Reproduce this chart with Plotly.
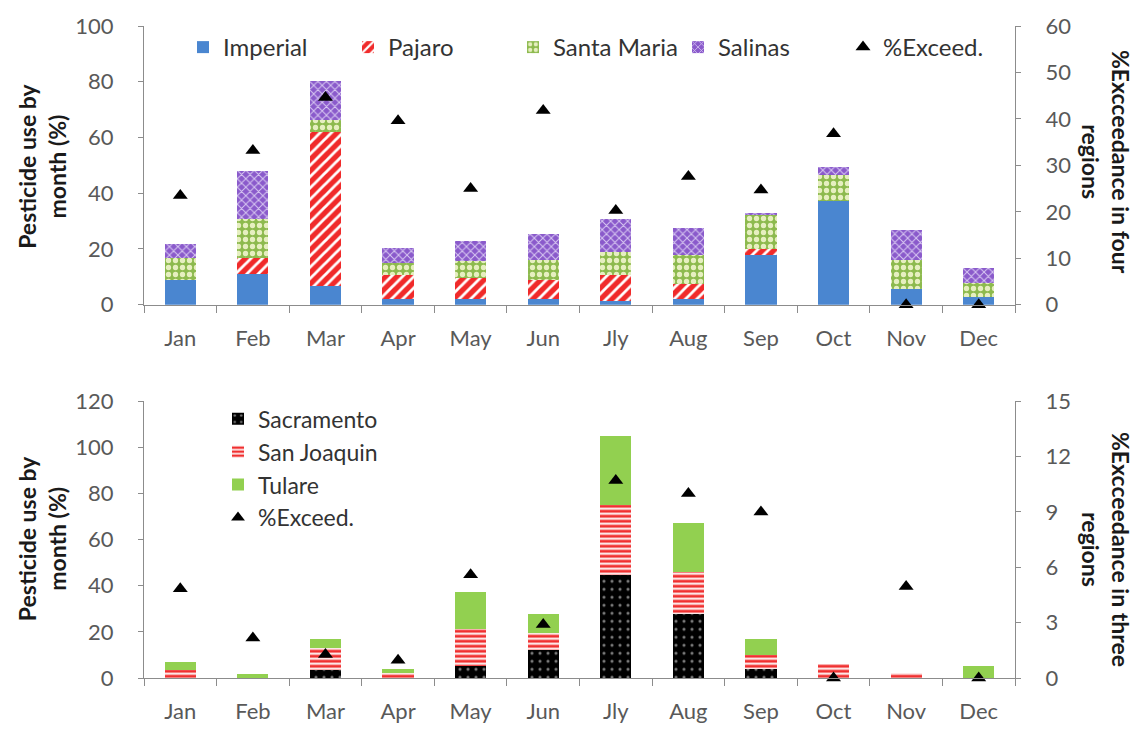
import plotly.graph_objects as go

months = ["Jan", "Feb", "Mar", "Apr", "May", "Jun", "Jly", "Aug", "Sep", "Oct", "Nov", "Dec"]

# Top panel: four regions (pesticide use by month, %)
imperial = [8.7, 10.9, 6.7, 2.0, 2.0, 2.0, 1.4, 2.2, 17.7, 37.2, 5.5, 2.8]
pajaro = [0.0, 5.9, 55.2, 8.5, 7.7, 6.7, 9.2, 5.1, 2.3, 0.0, 0.0, 0.0]
santa_maria = [8.1, 13.9, 4.5, 4.5, 5.9, 7.5, 8.3, 10.6, 12.1, 9.3, 10.7, 5.1]
salinas = [4.9, 17.3, 13.9, 5.3, 7.3, 9.2, 11.7, 9.5, 0.9, 3.0, 10.6, 5.3]
exceed_four = [23.5, 33.2, 44.6, 39.6, 25.0, 41.8, 20.3, 27.6, 24.7, 36.8, 0.0, 0.0]

# Bottom panel: three regions
sacramento = [0.0, 0.0, 3.6, 0.0, 5.0, 12.1, 44.8, 27.6, 4.0, 0.0, 0.0, 0.0]
san_joaquin = [3.6, 0.0, 9.3, 2.1, 16.4, 7.5, 30.2, 18.2, 6.0, 6.1, 2.0, 0.0]
tulare = [3.5, 1.9, 3.8, 1.6, 15.9, 8.3, 30.1, 21.3, 6.9, 0.0, 0.0, 5.4]
exceed_three = [4.84, 2.17, 1.28, 0.96, 5.6, 2.9, 10.7, 10.0, 9.0, 0.0, 4.96, 0.0]

FONT = "Lato"
TICK_COLOR = "#595959"
AXIS_COLOR = "#8c8c8c"
BAR_W = 0.43

fig = go.Figure()

def bar(name, vals, xa, ya, legend, color, pattern=None):
    marker = dict(color=color, line=dict(width=0))
    if pattern:
        marker["pattern"] = pattern
    fig.add_trace(go.Bar(name=name, x=months, y=vals, xaxis=xa, yaxis=ya,
                         width=BAR_W, marker=marker, legend=legend))

# top bars
bar("Imperial", imperial, "x", "y", "legend", "#4A86D0")
bar("Pajaro", pajaro, "x", "y", "legend", "#F02A2A",
    dict(shape="/", fgcolor="#FFFFFF", bgcolor="#F02A2A", size=8, solidity=0.35, fillmode="replace"))
bar("Santa Maria", santa_maria, "x", "y", "legend", "#8DBA4E",
    dict(shape=".", fgcolor="#E6EFC0", bgcolor="#8DBA4E", size=7, solidity=0.45, fillmode="replace"))
bar("Salinas", salinas, "x", "y", "legend", "#8A5ACB",
    dict(shape="x", fgcolor="#D8C8F2", bgcolor="#8A5ACB", size=6, solidity=0.3, fillmode="replace"))
fig.add_trace(go.Scatter(name="%Exceed.", x=months, y=exceed_four, xaxis="x", yaxis="y2",
                         mode="markers", cliponaxis=False, legend="legend",
                         marker=dict(symbol="triangle-up", size=13, color="black")))

# bottom bars
bar("Sacramento", sacramento, "x2", "y3", "legend2", "#000000",
    dict(shape=".", fgcolor="#7a7a7a", bgcolor="#000000", size=8, solidity=0.12, fillmode="replace"))
bar("San Joaquin", san_joaquin, "x2", "y3", "legend2", "#F03030",
    dict(shape="-", fgcolor="#FFFFFF", bgcolor="#F03030", size=5, solidity=0.4, fillmode="replace"))
bar("Tulare", tulare, "x2", "y3", "legend2", "#92D050")
fig.add_trace(go.Scatter(name="%Exceed.", x=months, y=exceed_three, xaxis="x2", yaxis="y4",
                         mode="markers", cliponaxis=False, legend="legend2",
                         marker=dict(symbol="triangle-up", size=13, color="black")))

L, R, T, B = 144, 123, 22, 52
W, H = 1138, 736
ph = H - T - B
top_lo = (H - B - 305) / ph
bot_hi = (H - B - 403) / ph

tickfont = dict(family=FONT, size=22, color=TICK_COLOR)

xcommon = dict(type="category", range=[-0.5, 11.5], showline=True, linecolor=AXIS_COLOR,
               linewidth=1, ticks="outside", tickson="boundaries", ticklen=7,
               tickcolor=AXIS_COLOR, tickfont=tickfont, showgrid=False, zeroline=False,
               ticklabelstandoff=14)
ycommon = dict(showline=True, linecolor=AXIS_COLOR, linewidth=1, ticks="outside", ticklen=5,
               tickcolor=AXIS_COLOR, tickfont=tickfont, showgrid=False, zeroline=False,
               ticklabelstandoff=20)


def px_x(px):
    return (px - L) / (W - L - R)


def px_y(py):
    return (H - B - py) / ph


fig.update_layout(
    width=W, height=H,
    margin=dict(l=L, r=R, t=T, b=B),
    paper_bgcolor="white", plot_bgcolor="white",
    barmode="stack",
    font=dict(family=FONT, color="#222"),
    xaxis=dict(domain=[0, 1], anchor="y", **xcommon),
    xaxis2=dict(domain=[0, 1], anchor="y3", **xcommon),
    yaxis=dict(domain=[top_lo, 1], anchor="x", range=[0, 100], tickvals=[0, 20, 40, 60, 80, 100], **ycommon),
    yaxis2=dict(overlaying="y", side="right", anchor="x", range=[0, 60],
                tickvals=[0, 10, 20, 30, 40, 50, 60], **ycommon),
    yaxis3=dict(domain=[0, bot_hi], anchor="x2", range=[0, 120],
                tickvals=[0, 20, 40, 60, 80, 100, 120], **ycommon),
    yaxis4=dict(overlaying="y3", side="right", anchor="x2", range=[0, 15],
                tickvals=[0, 3, 6, 9, 12, 15], **ycommon),
    legend=dict(orientation="h", x=px_x(183), y=px_y(21),
                xanchor="left", yanchor="top", traceorder="normal",
                font=dict(family=FONT, size=24, color="#333"),
                entrywidth=120, entrywidthmode="pixels", bgcolor="rgba(0,0,0,0)"),
    legend2=dict(orientation="v", x=px_x(218), y=px_y(399),
                 xanchor="left", yanchor="top", traceorder="normal",
                 font=dict(family=FONT, size=23, color="#333"), bgcolor="rgba(0,0,0,0)",
                 itemsizing="constant"),
)

title_font = dict(family=FONT, size=23, color="#1a1a1a")

annos = [
    dict(text="<b>Pesticide use by<br>month (%)</b>", x=px_x(42), y=px_y(165), textangle=-90),
    dict(text="<b>Pesticide use by<br>month (%)</b>", x=px_x(42), y=px_y(543), textangle=-90),
    dict(text="<b>%Excceedance in four<br>regions</b>", x=px_x(1106), y=px_y(160), textangle=90),
    dict(text="<b>%Excceedance in three<br>regions</b>", x=px_x(1106), y=px_y(553), textangle=90),
]
for a in annos:
    fig.add_annotation(xref="paper", yref="paper", showarrow=False, font=title_font,
                       xanchor="center", yanchor="middle", **a)

fig.write_html("out.html", config={"displayModeBar": False},
               post_script="document.body.style.margin='0';")
